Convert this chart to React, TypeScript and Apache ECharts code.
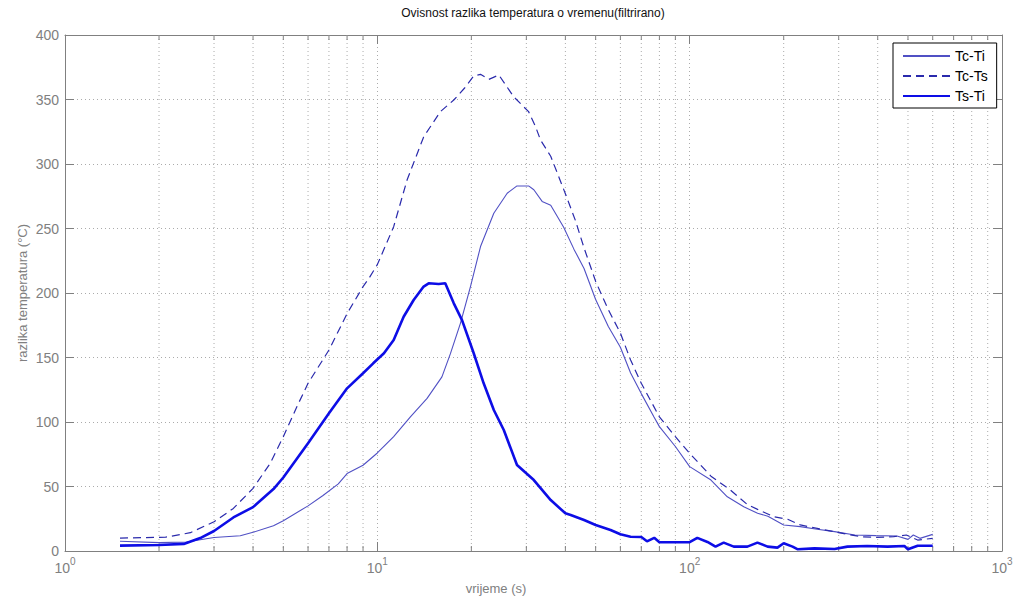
import React, { useEffect, useRef } from "react";
import * as echarts from "echarts";

const titleText = "Ovisnost razlika temperatura o vremenu(filtrirano)";
const xAxisName = "vrijeme (s)";
const yAxisName = "razlika temperatura (°C)";
const seriesNames = ["Tc-Ti", "Tc-Ts", "Ts-Ti"];

// x: time (s), log scale; y: temperature difference (°C)
const tcTiTime = [
  1.5, 2, 2.45, 3, 3.64, 4, 4.65, 5, 6, 6.7,
  7.5, 8, 9, 10, 11.28, 12.76, 14.43, 16.1, 17.14, 18.45,
  19.87, 21.4, 23.6, 26.05, 28, 30.5, 31.7, 33.7, 35.9, 39.5,
  42.6, 45.9, 50, 54.9, 60, 64.7, 70, 76.8, 80, 90,
  100, 117, 132, 149, 165, 178, 200, 226, 256, 291,
  338, 395, 461, 500, 520, 546, 600,
];
const tcTiValues = [
  7.5, 6.5, 7, 10.5, 11.8, 14.5, 19.5, 23.5, 35, 43,
  52, 60, 66.5, 76, 88.6, 104, 118.3, 135, 153, 176.5,
  205, 236, 261.8, 277.3, 283, 283, 280, 271, 268, 251,
  234, 219, 195, 174, 158, 138, 122, 104, 96.4, 81,
  65.4, 55, 42, 34.3, 29.2, 27, 20.2, 18.9, 16.8, 15,
  12.4, 11.9, 11.6, 9, 12.4, 9.8, 12.9,
];

const tcTsTime = [
  1.5, 2.1, 2.52, 3, 3.46, 4, 4.54, 5, 5.53, 6,
  7, 8, 9, 9.38, 10, 11.28, 12.45, 14.07, 15.92, 17.57,
  19, 20.35, 21.39, 22.75, 24.5, 27.35, 30.5, 32.1, 33.3, 35.9,
  40, 43.1, 45.9, 50, 54.9, 60, 64.7, 70, 80, 90,
  100, 117, 135, 153, 165, 186, 206, 226, 256, 300,
  353, 395, 450, 494, 537, 600,
];
const tcTsValues = [
  10, 10.7, 14.2, 22.7, 33, 48.6, 68, 88.6, 112, 130,
  155.8, 184, 205, 211, 222, 251.4, 287.6, 321, 340.6, 349.6,
  358.7, 368.2, 369.5, 365.6, 369, 352, 340.6, 329, 318.6, 306,
  277, 256, 235, 209, 187, 169, 148, 130, 104, 88.6,
  75.7, 58, 47.3, 36, 32.3, 26.6, 24.6, 20.2, 17.6, 14.2,
  11.1, 10.6, 11.1, 12.4, 8.5, 9.8,
];

const tsTiTime = [
  1.5, 2, 2.4, 2.71, 3, 3.46, 4, 4.65, 5, 6,
  7, 8, 9, 9.7, 10.5, 11.28, 12.14, 13.07, 14.07, 14.6,
  15.72, 16.5, 17.57, 18.67, 20.35, 21.9, 23.6, 25.4, 28, 31.7,
  35.9, 40, 41.6, 45.9, 50, 55.8, 60, 64.7, 70, 73,
  77, 80, 100, 105.8, 114, 121, 128.5, 138.4, 153, 164.8,
  177.6, 191, 200, 213.5, 222, 251, 291, 320, 370, 430,
  487, 500, 537, 600,
];
const tsTiValues = [
  4.2, 4.6, 5.5, 10, 15.5, 26, 34, 48, 57, 83.5,
  106.7, 126.1, 137.8, 145.5, 153.3, 163.6, 181.6, 194.6, 205, 207.5,
  207, 207.5, 192, 179, 153.3, 130, 109.3, 93.8, 66.7, 55,
  39.5, 29.2, 27.9, 24, 20.2, 16.3, 13, 11.1, 10.8, 7.5,
  10.2, 6.8, 6.8, 10.2, 7, 3.4, 6.5, 3.4, 3.4, 6.5,
  3.4, 2.6, 6, 3.4, 1.3, 2, 1.5, 3.4, 3.9, 3.4,
  3.9, 1.3, 4.1, 4.1,
];

const xMin = 1;
const xMax = 1000;
const yMin = 0;
const yMax = 400;
const yInterval = 50;
const xMinorTicks = [
  2, 3, 4, 5, 6, 7, 8, 9,
  20, 30, 40, 50, 60, 70, 80, 90,
  200, 300, 400, 500, 600, 700, 800, 900,
];

const FONT = "'Liberation Sans', Arial, Helvetica, sans-serif";
const AXIS_COLOR = "#808080";
const GRID_COLOR = "#ababab";

function zip(t: number[], v: number[]) {
  return t.map((x, i) => [x, v[i]]);
}

export default function App() {
  const ref = useRef<HTMLDivElement>(null);

  useEffect(() => {
    if (!ref.current) return;
    const chart = echarts.init(ref.current, null, { renderer: "svg" });

    const tickStyle = { color: AXIS_COLOR, width: 1 };

    const option: any = {
      animation: false,
      backgroundColor: "#ffffff",
      textStyle: { fontFamily: FONT },
      grid: {
        left: 65,
        right: 18,
        top: 35,
        bottom: 47,
        outerBoundsMode: "none",
        containLabel: false,
      },
      legend: {
        data: seriesNames,
        orient: "vertical",
        left: 893,
        top: 43,
        align: "left",
        itemWidth: 47,
        itemHeight: 14,
        itemGap: 6,
        padding: [6, 9, 5, 9],
        borderColor: "#000000",
        borderWidth: 1,
        backgroundColor: "#ffffff",
        itemStyle: { opacity: 0 },
        textStyle: { fontFamily: FONT, fontSize: 14, color: "#000000" },
        selectedMode: false,
      },
      graphic: [
        {
          type: "text",
          x: 533,
          y: 13,
          silent: true,
          style: {
            text: titleText,
            fontFamily: FONT,
            fontSize: 12,
            fill: "#111111",
            textAlign: "center",
            textVerticalAlign: "middle",
          },
        },
        {
          type: "text",
          x: 496,
          y: 588,
          silent: true,
          style: {
            text: xAxisName,
            fontFamily: FONT,
            fontSize: 13,
            fill: AXIS_COLOR,
            textAlign: "center",
            textVerticalAlign: "middle",
          },
        },
        {
          type: "text",
          x: 22,
          y: 293,
          rotation: Math.PI / 2,
          silent: true,
          style: {
            text: yAxisName,
            fontFamily: FONT,
            fontSize: 13,
            fill: AXIS_COLOR,
            textAlign: "center",
            textVerticalAlign: "middle",
          },
        },
      ],
      xAxis: [
        {
          type: "log",
          logBase: 10,
          min: xMin,
          max: xMax,
          splitNumber: 3,
          position: "bottom",
          axisLine: { show: true, onZero: false, lineStyle: { color: AXIS_COLOR, width: 1 } },
          axisTick: { show: true, inside: true, length: 9, lineStyle: tickStyle },
          splitLine: {
            show: true,
            lineStyle: { color: GRID_COLOR, type: [1, 3], width: 1 },
          },
          axisLabel: {
            margin: 5,
            formatter: (v: number) => `{b|10}{s|${Math.round(Math.log10(v))}}`,
            rich: {
              b: { fontFamily: FONT, fontSize: 14, color: AXIS_COLOR, verticalAlign: "bottom" },
              s: {
                fontFamily: FONT,
                fontSize: 10,
                color: AXIS_COLOR,
                verticalAlign: "bottom",
                padding: [0, 0, 9, 0],
              },
            },
          },
        },
        {
          type: "log",
          logBase: 10,
          min: xMin,
          max: xMax,
          splitNumber: 3,
          position: "top",
          axisLine: { show: true, onZero: false, lineStyle: { color: AXIS_COLOR, width: 1 } },
          axisTick: { show: true, inside: true, length: 9, lineStyle: tickStyle },
          splitLine: { show: false },
          axisLabel: { show: false },
        },
      ],
      yAxis: [
        {
          type: "value",
          min: yMin,
          max: yMax,
          interval: yInterval,
          position: "left",
          axisLine: { show: true, onZero: false, lineStyle: { color: AXIS_COLOR, width: 1 } },
          axisTick: { show: true, inside: true, length: 9, lineStyle: tickStyle },
          splitLine: {
            show: true,
            lineStyle: { color: GRID_COLOR, type: [1, 3], width: 1 },
          },
          axisLabel: {
            margin: 6,
            fontFamily: FONT,
            fontSize: 14,
            color: AXIS_COLOR,
          },
        },
        {
          type: "value",
          min: yMin,
          max: yMax,
          interval: yInterval,
          position: "right",
          axisLine: { show: true, onZero: false, lineStyle: { color: AXIS_COLOR, width: 1 } },
          axisTick: { show: true, inside: true, length: 9, lineStyle: tickStyle },
          splitLine: { show: false },
          axisLabel: { show: false },
        },
      ],
      series: [
        {
          type: "custom",
          name: "minor",
          xAxisIndex: 0,
          yAxisIndex: 0,
          silent: true,
          z: 1,
          clip: false,
          data: xMinorTicks.map((v) => [v, 0]),
          encode: { x: 0, y: 1 },
          renderItem: (params: any, api: any) => {
            const cs = params.coordSys;
            const px = api.coord([api.value(0), 0])[0];
            const top = cs.y;
            const bottom = cs.y + cs.height;
            return {
              type: "group",
              children: [
                {
                  type: "line",
                  shape: { x1: px, y1: top, x2: px, y2: bottom },
                  style: { stroke: GRID_COLOR, lineWidth: 1, lineDash: [1, 3] },
                },
                {
                  type: "line",
                  shape: { x1: px, y1: bottom, x2: px, y2: bottom - 5 },
                  style: { stroke: AXIS_COLOR, lineWidth: 1 },
                },
                {
                  type: "line",
                  shape: { x1: px, y1: top, x2: px, y2: top + 5 },
                  style: { stroke: AXIS_COLOR, lineWidth: 1 },
                },
              ],
            };
          },
        },
        {
          name: seriesNames[0],
          type: "line",
          data: zip(tcTiTime, tcTiValues),
          symbol: "none",
          showSymbol: false,
          z: 3,
          color: "#5050c4",
          lineStyle: { color: "#5050c4", width: 1.1 },
        },
        {
          name: seriesNames[1],
          type: "line",
          data: zip(tcTsTime, tcTsValues),
          symbol: "none",
          showSymbol: false,
          z: 3,
          color: "#2a2aac",
          lineStyle: { color: "#2a2aac", width: 1.2, type: [8, 5] },
        },
        {
          name: seriesNames[2],
          type: "line",
          data: zip(tsTiTime, tsTiValues),
          symbol: "none",
          showSymbol: false,
          z: 4,
          color: "#0d0de6",
          lineStyle: { color: "#0d0de6", width: 2.6 },
        },
      ],
    };

    chart.setOption(option);
    return () => {
      chart.dispose();
    };
  }, []);

  return (
    <div
      ref={ref}
      style={{ position: "fixed", left: 0, top: 0, width: 1020, height: 598, background: "#fff" }}
    />
  );
}
